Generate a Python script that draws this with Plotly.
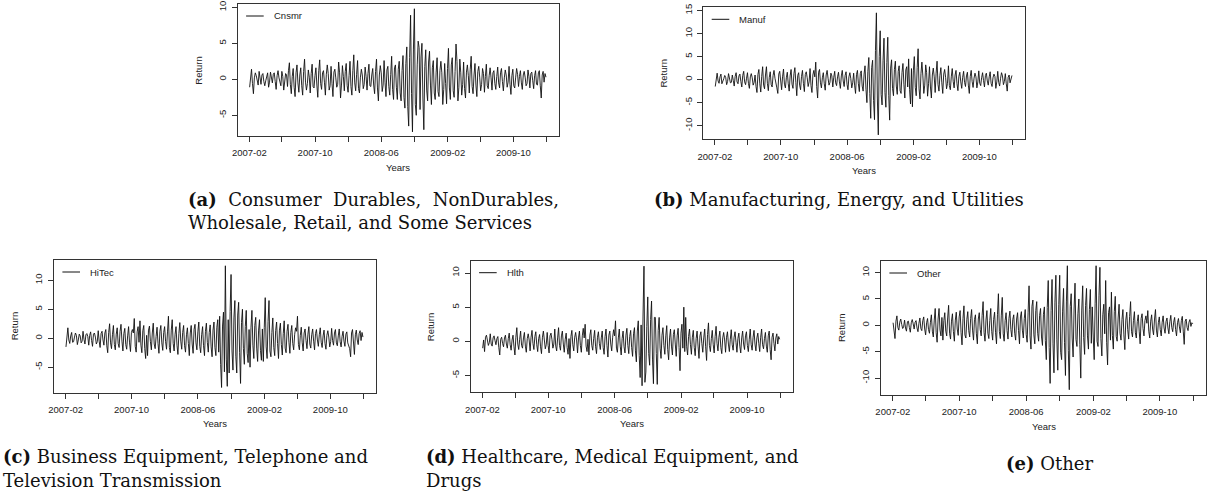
import plotly.graph_objects as go
import pandas as pd

W, H = 1207, 497

# ---------------- data (twice-weekly returns) ----------------
cnsmr = [
    -1.1, 0.3, 1.4, -0.6, -2.0, 0.2, 0.9, 0.5, -0.4, -0.8, 1.1, 0.1, -0.7, 0.6, 0.8, -0.3, -0.9, -0.2, 0.6, 0.9, -1.1, -0.4, 1.0, 0.2, -0.5, 0.7,
    0.9, -0.3, -1.4, 0.5, 1.2, 0.2, -0.6, -0.9, 1.1, 0.4, -1.5, -0.2, 0.8, 0.6, -1.0, 1.2, 2.3, -0.7, -2.0, 0.4, 1.5, -1.1, -2.4, 0.9, 2.0, -0.5,
    -1.8, 0.6, 1.6, -0.9, -2.2, 1.1, 2.8, -0.4, -1.5, -0.6, 1.3, 0.3, -1.9, 0.8, 2.1, -1.0, -1.2, 0.5, 1.6, -0.8, -2.5, 1.2, 2.7, -0.6, -1.4, 0.9,
    1.2, -0.4, -2.2, 0.7, 2.0, 0.8, -1.5, -0.9, 1.8, -0.6, -2.4, 1.0, 1.4, 0.2, -1.1, -0.7, 2.4, 0.9, -2.6, -0.8, 1.9, 0.4, -1.6, 1.1, 2.2, -0.9,
    -1.8, 0.5, 2.5, -1.0, -2.2, 1.2, 3.4, -0.5, -1.6, 0.7, 2.6, -1.3, -1.9, 0.3, 1.4, 0.6, -1.3, -0.7, 1.7, 0.4, -1.5, 0.8, 2.1, -0.9, -1.0, 0.6,
    1.5, -0.8, -2.0, 1.1, 2.8, -1.2, -3.0, 0.6, 1.9, 0.9, -1.7, -0.8, 2.6, -0.4, -2.4, 1.3, 1.8, -1.0, -2.2, 0.7, 3.2, -1.4, -2.8, 1.6, 2.0, -1.1,
    -2.8, 1.4, 2.5, -1.9, -3.0, 1.2, 3.3, -2.5, -4.0, 2.2, 4.5, -3.8, -6.5, 3.0, 8.9, -2.0, -7.3, 4.2, 9.8, -3.5, -5.0, 2.0, 5.3, 4.4, -4.2, 3.1,
    5.0, -2.6, -7.0, 1.8, 4.1, -1.5, -3.0, 2.4, 3.9, -0.8, -3.5, 1.6, 2.6, -1.9, -2.8, 1.0, 3.0, -1.7, -2.4, 1.2, 2.5, 0.9, -3.5, -1.4, 2.2, -0.6,
    -3.4, 1.5, 4.3, -1.2, -2.8, 2.0, 3.0, -1.6, -2.5, 1.1, 4.9, 2.5, -3.0, -1.1, 2.8, 0.9, -2.2, -0.7, 2.4, -1.3, -2.6, 1.0, 2.0, 0.5, -1.9, 1.4,
    3.2, -1.0, -2.0, 0.6, 2.2, -0.8, -2.4, 1.1, 1.8, 0.3, -1.6, -0.7, 1.5, 0.8, -1.8, 0.4, 2.1, -0.9, -1.3, 0.5, 1.6, 0.2, -1.5, 0.9, 1.2, -0.6,
    -1.4, 0.4, 1.7, -0.5, -1.2, 0.9, 1.5, -0.3, -1.6, 0.2, 1.3, 0.6, -1.1, -0.4, 1.8, -0.7, -2.1, 0.5, 1.4, -0.9, -1.2, 0.3, 1.5, 0.7, -1.0, 0.4,
    1.2, -0.5, -1.4, 0.6, 1.1, 0.3, -0.9, -0.6, 1.3, 0.4, -1.2, 0.8, 1.0, -0.2, -1.3, 0.5, 1.2, -0.7, -0.8, 0.9, 1.2, -0.9, -2.6, 0.6, 1.1, -0.4, 0.8, 0.3,
]
manuf = [
    -1.5, 0.4, 1.4, -0.3, -0.8, 0.6, 1.2, -0.9, -0.5, 0.2, 0.9, 0.5, -1.1, -0.4, 1.3, 0.3, -0.7, -0.6, 1.0, -0.2, -1.4, 0.7, 1.5, -0.5, -0.9, 0.8,
    1.2, -0.4, -1.6, 0.9, 1.8, -0.5, -1.1, 0.3, 1.5, -0.8, -1.9, 0.6, 1.3, 0.4, -1.2, -0.6, 1.0, -1.5, -2.8, 1.1, 2.2, -0.9, -2.7, 0.7, 2.8, -1.2,
    -2.0, 1.0, 2.8, -0.8, -2.4, 0.5, 1.7, -1.1, -1.6, 0.9, 2.0, 0.3, -1.3, -1.8, -3.0, 1.2, 1.8, -0.7, -2.2, 0.6, 2.3, -1.0, -1.8, 0.4, 1.6, -0.9,
    -2.5, 0.8, 2.2, -1.0, -1.9, 1.3, 2.6, -0.6, -3.5, 0.9, 1.5, -1.2, -2.2, 0.7, 2.0, -0.8, -2.6, 1.1, 1.7, 0.4, -1.5, -0.5, 2.4, -1.3, -2.8, 1.0,
    2.0, 0.6, 3.8, -1.5, -4.0, 1.6, 2.2, -0.7, -1.8, 0.4, 1.5, -0.9, -2.3, 1.0, 2.0, 0.3, -1.2, -0.6, 1.4, 0.8, -1.6, 0.5, 1.8, -0.7, -1.3, 0.6,
    1.6, -0.5, -1.9, 0.8, 2.0, -0.3, -1.5, 0.9, 1.7, -1.0, -2.2, 0.6, 1.5, 0.2, -1.8, -0.7, 1.4, -1.2, -3.0, 1.1, 2.0, -0.9, -2.6, 1.3, 1.9, -1.4,
    -2.5, 1.2, 3.0, -2.1, -5.0, 1.8, 4.8, -3.0, -8.4, 2.6, 4.2, -4.5, -8.7, 6.3, 14.5, -4.0, -12.0, 5.0, 10.6, -3.2, -5.5, 4.1, 9.0, -2.8, -6.0, 3.7,
    9.2, -3.4, -8.8, 2.5, 4.3, -1.9, -3.5, 2.2, 4.0, -1.4, -3.2, 1.8, 3.0, -2.4, -3.0, 1.5, 3.5, -1.0, -4.0, 2.1, 2.8, -1.6, 4.5, -2.2, -5.3, 2.4,
    -5.9, 1.9, 5.0, -1.7, -3.5, 2.6, 6.7, -2.0, -4.2, 1.3, 3.8, 0.8, -3.0, -1.2, 3.2, 1.5, -3.6, -0.9, 2.8, -1.6, -4.0, 1.0, 2.5, 0.6, -2.8, 1.4,
    4.0, -1.1, -2.5, 0.9, 2.6, -0.7, -3.0, 1.2, 2.2, 0.5, -2.0, -0.8, 3.0, -1.3, -2.2, 0.6, 2.4, -0.4, -1.8, 1.0, 2.0, -0.9, -2.4, 0.7, 1.6, -0.5,
    -1.9, 0.5, 1.8, -0.6, -1.5, 0.8, 1.6, -1.2, -3.0, 0.7, 2.0, -0.4, -1.7, 0.3, 1.4, 0.6, -1.8, -0.5, 1.9, -0.8, -1.3, 0.4, 1.5, -0.2, -1.6, 0.9,
    1.4, -0.3, -1.2, 0.6, 1.7, -0.8, -1.5, 0.4, 1.2, 0.7, -1.9, -0.5, 1.8, -0.6, -1.4, 0.3, 1.5, 0.8, -1.1, -0.4, 1.3, -0.9, -2.5, 0.5, 1.0, -0.7, 0.6, 0.9,
]
hitec = [
    -1.5, 0.6, 1.8, -0.3, -0.9, 0.4, 1.0, -0.7, -0.6, 0.2, 0.9, 0.5, -1.1, -0.3, 0.7, 0.4, -0.8, -0.5, 1.2, -0.2, -1.0, 0.6, 0.8, 0.3, -1.2, 0.5,
    1.1, -0.4, -1.4, 0.7, 0.9, 0.2, -1.0, -0.6, 1.3, -0.5, -1.6, 0.8, 1.2, -0.3, -1.2, 0.9, 1.5, -1.3, -2.5, 1.0, 2.5, -0.8, -1.8, 0.6, 2.2, -1.1,
    -2.0, 0.7, 1.8, -0.9, -1.6, 1.2, 2.4, -0.5, -2.2, 0.8, 1.7, -1.1, -1.9, 0.4, 2.0, -0.8, -2.3, 1.0, 1.5, 0.9, 3.4, -1.4, -2.4, 1.1, 2.0, -0.7,
    3.0, -1.2, -2.5, 1.3, 2.2, -1.8, -3.5, 0.5, -3.0, 1.4, 2.1, -0.6, -2.0, 0.9, 2.6, -1.0, -1.8, 0.3, 1.9, -0.9, -2.6, 1.2, 2.2, -0.8, -2.1, 1.0,
    2.0, -0.6, -1.9, 1.1, 3.8, -1.6, -2.5, 1.4, 3.2, -0.9, -2.2, 0.7, 2.0, -1.2, -2.8, 0.8, 2.7, -0.5, -1.9, 1.0, 2.2, -1.3, -2.4, 0.6, 1.8, -0.9,
    -3.0, 0.9, 2.2, -1.0, -2.6, 1.5, 2.4, -0.8, -2.0, 1.1, 2.8, -1.4, -2.5, 0.6, 2.0, -1.3, -3.0, 1.2, 2.6, -0.7, -2.4, 1.0, 2.3, -1.5, -3.2, 1.4,
    2.8, -1.6, -3.0, 1.9, 3.2, -2.4, 3.8, -4.5, -8.5, 2.1, 4.5, -5.8, 12.5, -3.6, -8.3, 3.2, -6.0, 4.6, 11.0, -2.2, -5.5, 3.5, 6.5, -3.1, -6.0, 4.0,
    6.2, -2.5, -7.8, 2.7, 5.0, -1.8, -4.5, 2.0, 4.8, -2.6, -4.2, 1.5, -5.0, 1.9, 4.8, -1.2, -3.5, 2.2, 3.6, -1.7, -4.0, 1.4, 3.2, -2.1, -3.8, 1.6,
    -4.0, 1.8, 7.0, -1.5, -3.5, 2.9, 6.5, -2.2, -3.2, 1.0, 3.5, -1.6, -3.0, 1.3, 2.8, -0.9, -3.5, 1.4, 2.6, -1.1, -2.9, 0.8, 3.0, -1.7, -2.5, 1.2,
    2.4, -0.7, -2.6, 1.0, 2.2, -0.9, -2.0, 0.6, 1.8, 1.2, 3.8, -1.1, -2.0, 0.5, 1.9, -0.8, -2.2, 0.9, 1.6, -0.4, -1.8, 0.7, 2.0, -1.0, -1.7, 0.6,
    1.6, -0.5, -2.0, 0.8, 1.5, -0.3, -1.4, 0.6, 1.8, -0.7, -1.6, 0.4, 1.4, -0.9, -1.9, 0.5, 1.3, 0.2, -1.5, -0.6, 1.7, -0.4, -1.2, 0.9, 1.5, -0.8,
    -1.3, 0.4, 1.6, -0.6, -1.5, 0.3, 1.2, -0.5, -1.4, 0.7, 1.1, -0.8, -1.2, -1.8, -3.2, 0.9, 1.5, -1.0, -2.8, 0.6, 1.4, -0.3, -1.1, 0.8, 1.3, -0.4, 1.0, 0.2,
]
hlth = [
    -1.0, 0.2, -1.5, 0.6, 0.9, 0.3, -0.6, -0.2, 1.1, -0.4, -0.7, 0.5, 0.8, 0.1, -0.5, 0.4, 0.7, -0.9, -2.0, 0.3, 0.6, -0.3, -0.8, 0.5, 0.9, -0.4,
    -1.0, 0.4, 1.2, -0.5, -1.3, 0.2, 0.9, -0.8, -2.0, 0.6, 2.0, -0.4, -1.2, 0.3, 1.5, -0.6, -1.0, 0.5, 1.3, -0.7, -1.6, 0.4, 1.1, 0.2, -1.4, 0.6,
    1.6, -0.3, -1.2, 0.7, 1.4, -0.5, -1.5, 0.4, 1.0, -0.8, -1.8, 0.6, 1.5, 0.2, -1.1, -0.5, 1.3, -0.6, -1.7, 0.8, 1.2, 0.3, -1.0, -0.4, 1.8, -0.7,
    -1.4, 0.5, 2.0, -0.6, -1.3, 0.8, 1.5, -0.4, -1.6, 0.3, 1.2, -0.9, -1.9, 0.4, -2.5, 0.7, 1.6, -0.5, -1.4, 0.6, 1.3, 0.2, -1.7, 0.5, 1.5, -0.6,
    -1.6, 0.8, 1.9, 0.5, 2.5, -0.7, -1.5, 0.3, -2.0, 0.9, 1.7, -0.6, -1.3, 0.4, 1.6, -0.8, -1.8, 0.6, 1.4, -0.3, -1.2, 0.5, 1.5, -0.9, -1.9, 0.7,
    1.8, -0.6, -2.3, 0.9, 1.5, -0.4, -1.4, 0.6, 1.7, 0.8, 3.0, -1.0, -1.6, 0.5, 1.8, -0.7, -2.0, 0.4, 1.5, -0.8, -1.7, 0.9, 1.9, -0.6, -1.8, 0.7,
    1.6, -0.9, -2.2, 1.1, 2.0, -1.4, -3.0, 1.5, 3.0, -2.1, -5.3, 2.4, -6.5, 3.7, 11.0, -6.0, -4.5, 2.2, 6.5, -1.8, -3.5, 3.2, 5.9, -2.6, -6.2, 3.5,
    3.5, -1.8, -6.3, 1.6, 3.5, -1.0, -2.5, 0.9, 2.0, -0.6, -1.9, 0.8, 2.3, -1.2, -2.7, 0.5, 1.8, -0.7, -2.0, 1.0, 1.7, -0.4, -2.2, 0.8, 1.9, -0.9,
    -4.3, 1.2, 2.5, -1.0, 5.0, -1.5, 3.5, -0.8, -2.0, 0.7, 1.8, -0.5, -1.9, 0.6, 1.6, -0.9, -2.1, 0.4, 1.5, -0.7, -2.5, 0.8, 1.4, -0.3, -1.6, 0.5,
    1.8, -0.8, -2.8, 1.0, 2.7, -0.6, -1.5, 0.4, 1.6, -0.5, -1.7, 0.7, 2.2, -0.3, -1.4, 0.6, 1.5, -0.9, -1.8, 0.5, 1.3, 0.2, -1.6, 0.6, 1.4, -0.4,
    -1.5, 0.3, 1.7, -0.5, -1.3, 0.6, 1.4, -0.2, -1.6, 0.4, 1.2, -0.7, -1.7, 0.5, 1.5, -0.4, -1.2, 0.8, 1.4, -0.6, -1.5, 0.3, 1.8, -0.5, -1.3, 0.6,
    1.6, -0.4, -1.4, 0.5, 1.2, -0.3, -1.5, 0.6, 1.8, -0.5, -1.1, 0.4, 1.3, -0.7, -1.6, 0.8, 1.5, -1.2, -2.7, 0.6, 1.2, -0.3, -1.4, 0.5, 1.1, -0.4, 0.7, 0.3,
]
other = [
    0.5, -1.2, -2.5, 0.8, 1.8, -0.4, -0.9, 0.6, 1.2, 0.2, -0.6, -0.3, 1.0, -0.5, -1.1, 0.7, 0.8, -0.4, -1.3, 0.5, 1.1, 0.3, -0.7, 0.6, 0.9, -0.5,
    -1.2, 0.4, 1.4, -0.6, -1.0, 0.9, 1.6, -0.7, -1.8, 0.5, 1.3, -0.8, -1.5, 0.6, 2.0, -1.1, -2.2, 1.0, 3.2, -1.4, -3.2, 1.2, 3.2, -0.9, -2.0, 1.5,
    -2.8, 0.9, 2.4, -1.1, -2.0, 1.4, 3.8, -1.5, -2.6, 0.8, 2.2, -1.2, -3.0, 1.0, 2.5, -0.7, -1.9, 1.6, 2.8, -1.4, -3.7, 1.3, 3.7, -1.8, -2.4, 1.1,
    2.6, -1.0, -2.2, 1.3, 3.0, -0.9, -2.8, 1.1, 2.0, -1.6, -3.5, 1.2, 2.4, -0.8, -2.0, 1.9, 4.5, -1.3, -3.0, 1.0, 2.8, -1.5, -2.5, 0.9, 3.2, -1.2,
    -2.8, 1.1, 2.5, -1.4, -3.5, 2.0, 6.0, -1.2, -2.5, 1.8, 5.3, -1.6, -3.0, 0.9, 2.4, -1.0, -2.6, 1.3, 2.7, -0.8, -2.2, 1.1, 2.0, -1.5, -2.8, 1.2,
    2.4, -1.0, -3.5, 1.6, 2.6, -0.9, -2.4, 1.3, 3.0, -1.7, -3.2, 2.5, 7.5, -2.0, -4.5, 3.6, 4.8, -1.8, -3.5, 2.8, 4.5, -1.5, -3.0, 1.9, 3.2, -2.2,
    -3.8, 2.1, 3.5, -2.9, -6.5, 3.4, 8.5, -4.2, -11.0, 2.8, 8.7, -3.5, -9.0, 4.4, 9.5, -2.6, -8.5, 3.9, 9.5, -5.1, -6.5, 2.7, 7.0, -3.3, -9.5, 4.6,
    11.3, -4.8, -12.2, 3.6, 6.0, -2.4, -6.0, 3.1, 8.0, -2.7, -4.0, 2.2, 5.0, -3.6, -10.0, 2.9, 7.5, -2.3, -5.5, 3.8, 7.0, -2.0, -4.5, 3.0, 6.8, -3.4,
    3.5, -2.2, -6.5, 4.2, 11.3, -3.0, -4.0, 5.6, 11.0, -2.5, -5.8, 2.0, 4.0, -1.6, 8.5, -3.2, -7.5, 2.4, 3.5, -2.8, 6.3, -1.9, -4.5, 2.6, 5.5, -2.1,
    -3.0, 1.4, 4.0, -1.5, -2.8, 1.1, 3.0, -1.8, -4.6, 1.0, 2.5, -0.8, -2.6, 1.7, 4.5, -1.2, -2.2, 0.9, 2.6, -1.4, -2.4, 0.7, 2.0, -1.1, -3.5, 1.3,
    2.2, -0.6, -2.0, 0.9, 1.8, 0.4, 2.8, -1.1, -2.4, 0.8, 2.0, -0.7, -1.8, 1.2, 3.0, -0.9, -2.2, 0.5, 1.6, -0.8, -2.0, 0.6, 1.8, -0.5, -1.5, 0.7,
    1.4, -0.5, -1.6, 0.7, 1.9, -0.4, -1.2, 0.6, 1.5, -0.8, -2.0, 0.5, 1.3, -0.3, -1.4, 0.9, 1.7, -1.1, -3.6, 0.8, 1.2, -0.4, -1.0, 0.6, 1.1, -0.2, 0.5, 0.3,
]

series_names = ["Cnsmr", "Manuf", "HiTec", "Hlth", "Other"]
series_values = [cnsmr, manuf, hitec, hlth, other]

tick_dates = ["2007-02-01", "2007-06-01", "2007-10-01", "2008-02-01", "2008-06-01",
              "2008-10-01", "2009-02-01", "2009-06-01", "2009-10-01", "2010-02-01"]
tick_labels = ["2007-02", "", "2007-10", "", "2008-06", "", "2009-02", "", "2009-10", ""]

ytick_sets = [[-5, 0, 5, 10], [-10, -5, 0, 5, 10, 15], [-5, 0, 5, 10],
              [-5, 0, 5, 10], [-10, -5, 0, 5, 10]]
y_ranges = [[-7.875, 10.46], [-12.96, 15.7], [-9.4, 13.5], [-7.46, 11.8], [-13.2, 12.2]]

captions = [
    [("<b>(a)</b>\u00a0 Consumer\u00a0 Durables,\u00a0 NonDurables,", 186, 199),
     ("Wholesale, Retail, and Some Services", 186, 223)],
    [("<b>(b)</b> Manufacturing, Energy, and Utilities", 652, 199)],
    [("<b>(c)</b> Business Equipment, Telephone and", 1, 456),
     ("Television Transmission", 1, 480)],
    [("<b>(d)</b> Healthcare, Medical Equipment, and", 424, 456),
     ("Drugs", 424, 480)],
    [("<b>(e)</b> Other", 1004, 463)],
]

# plot boxes in pixels: left, right, top, bottom
boxes = [
    (237.7, 559.0, 4.0, 136.0),
    (703.3, 1025.0, 7.3, 139.3),
    (54.0, 376.0, 260.0, 392.7),
    (470.7, 792.7, 260.7, 392.3),
    (881.0, 1206.0, 261.0, 395.0),
]

x_range = ["2006-12-20", "2010-03-18"]

AX = "#333333"
FONT = "Liberation Sans, Arial, Helvetica, sans-serif"
SERIF = "DejaVu Serif, serif"

fig = go.Figure()
layout = dict(
    width=W, height=H, margin=dict(l=0, r=0, t=0, b=0), autosize=False,
    paper_bgcolor="white", plot_bgcolor="white", showlegend=False,
    font=dict(family=FONT, size=9.5, color="#222222"),
)
annotations = []
shapes = []

for i, (name, vals) in enumerate(zip(series_names, series_values)):
    sfx = "" if i == 0 else str(i + 1)
    l, r, t, b = boxes[i]
    dates = pd.date_range("2007-02-02", "2010-01-29", periods=len(vals))
    fig.add_trace(go.Scatter(
        x=dates, y=vals, mode="lines", name=name,
        line=dict(color="#111111", width=0.9),
        xaxis="x" + sfx, yaxis="y" + sfx, hoverinfo="skip",
    ))
    common = dict(showline=True, mirror=True, linecolor=AX, linewidth=1,
                  ticks="outside", ticklen=5, tickwidth=1, tickcolor=AX,
                  showgrid=False, zeroline=False, automargin=False,
                  tickfont=dict(family=FONT, size=9.5, color="#222222"))
    layout["xaxis" + sfx] = dict(
        common, domain=[l / W, r / W], anchor="y" + sfx, type="date",
        range=x_range, tickmode="array", tickvals=tick_dates, ticktext=tick_labels,
        ticklabelstandoff=3,
    )
    yt = ytick_sets[i]
    layout["yaxis" + sfx] = dict(
        common, domain=[1 - b / H, 1 - t / H], anchor="x" + sfx,
        range=y_ranges[i], tickmode="array", tickvals=yt,
        ticktext=[str(v) for v in yt], tickangle=-90, ticklabelstandoff=2,
    )
    annotations.append(dict(text="Return", xref="paper", yref="paper",
                            x=(l - 40) / W, y=1 - (t + b) / 2 / H, textangle=-90,
                            showarrow=False, xanchor="center", yanchor="middle",
                            font=dict(family=FONT, size=9.5, color="#222222")))
    annotations.append(dict(text="Years", xref="paper", yref="paper",
                            x=(l + r) / 2 / W, y=1 - (b + 31) / H,
                            showarrow=False, xanchor="center", yanchor="middle",
                            font=dict(family=FONT, size=9.5, color="#222222")))
    shapes.append(dict(type="line", xref="paper", yref="paper",
                       x0=(l + 8.4) / W, x1=(l + 26) / W,
                       y0=1 - (t + 12) / H, y1=1 - (t + 12) / H,
                       line=dict(color="#111111", width=1)))
    annotations.append(dict(text=name, xref="paper", yref="paper",
                            x=(l + 34) / W, y=1 - (t + 12) / H,
                            showarrow=False, xanchor="left", yanchor="middle",
                            font=dict(family=FONT, size=9.5, color="#222222")))
    for txt, px, py in captions[i]:
        annotations.append(dict(text=txt, xref="paper", yref="paper",
                                x=px / W, y=1 - py / H, showarrow=False,
                                xanchor="left", yanchor="middle",
                                font=dict(family=SERIF, size=18, color="#111111")))

layout["annotations"] = annotations
layout["shapes"] = shapes
fig.update_layout(**layout)
fig.write_html(
    "out.html",
    config={"displayModeBar": False, "staticPlot": True},
    post_script="document.body.style.margin='0px';document.body.style.padding='0px';"
                "document.body.style.overflow='hidden';",
)
